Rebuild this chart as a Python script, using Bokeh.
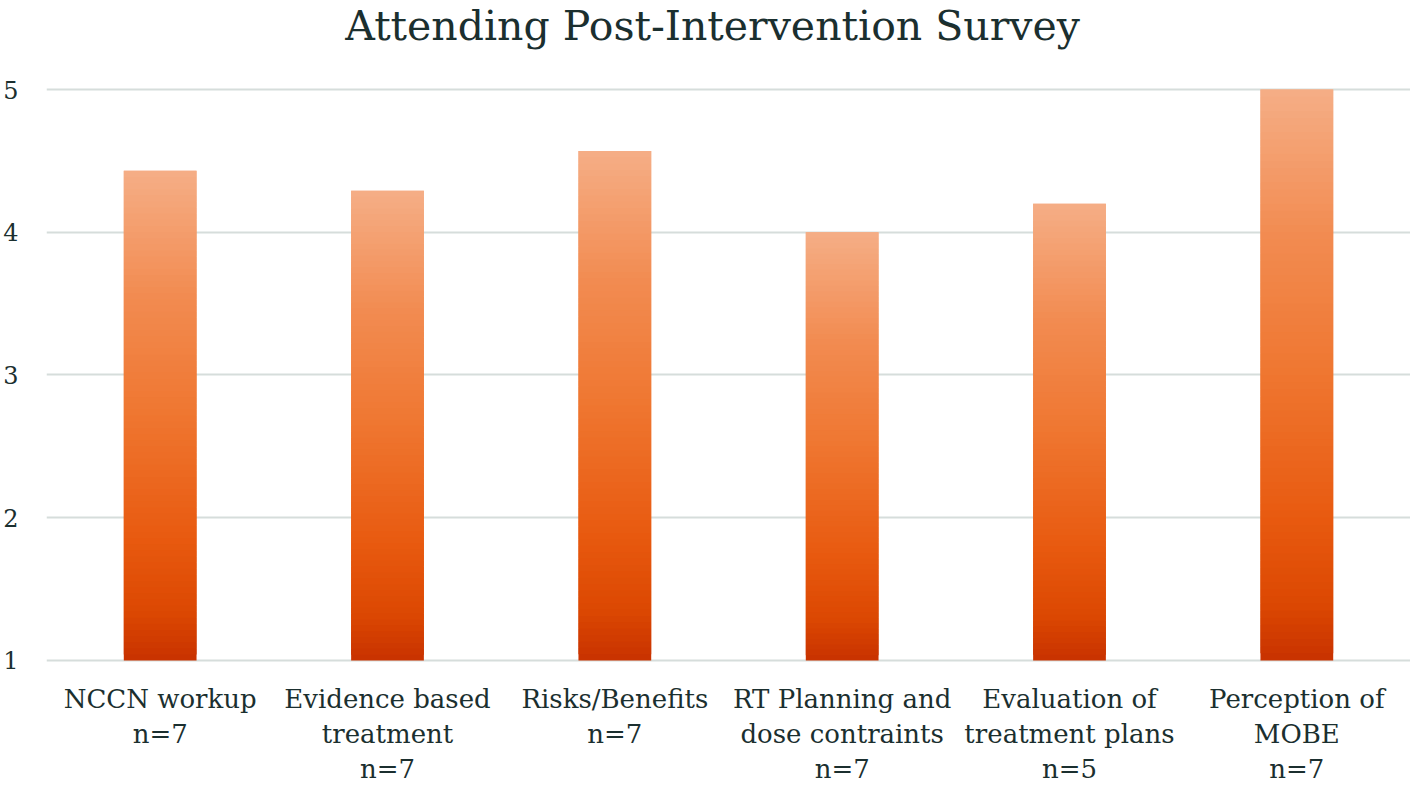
import numpy as np
from bokeh.plotting import figure
from bokeh.models import Range1d, FixedTicker, ColumnDataSource
from bokeh.embed import file_html
from bokeh.resources import INLINE

title = "Attending Post-Intervention Survey"
categories = ["NCCN workup\nn=7", "Evidence based\ntreatment\nn=7", "Risks/Benefits\nn=7",
              "RT Planning and\ndose contraints\nn=7", "Evaluation of\ntreatment plans\nn=5",
              "Perception of\nMOBE\nn=7"]
values = [4.43, 4.29, 4.57, 4.00, 4.20, 5.00]
y_ticks = [1, 2, 3, 4, 5]

FONT = "DejaVu Serif"
TXT = "#1b2f2f"

# numeric positions of the categories on the x scale
xpos = [i + 0.5 for i in range(len(categories))]

p = figure(x_range=Range1d(0, 6), y_range=Range1d(0.1243, 5.6235), width=1410, height=785,
           output_backend="svg", toolbar_location=None, min_border_left=36,
           min_border_right=0, min_border_top=0, min_border_bottom=0)
p.outline_line_color = None
p.xaxis.visible = False

# gradient stops (t=0 bottom, t=1 top)
stops_t = [0.0, 0.1, 0.25, 0.5, 0.75, 1.0]
stops_c = [(200, 50, 0), (220, 72, 2), (232, 90, 16), (239, 118, 48), (242, 140, 82), (245, 174, 134)]

N = 80
xs, bottoms, tops, colors = [], [], [], []
for xp, v in zip(xpos, values):
    edges = np.linspace(1.0, v, N + 1)
    for i in range(N):
        t = (i + 0.5) / N
        rgb = [int(round(np.interp(t, stops_t, [s[k] for s in stops_c]))) for k in range(3)]
        xs.append(xp)
        bottoms.append(edges[i])
        tops.append(edges[min(i + 2, N)])
        colors.append("#%02x%02x%02x" % tuple(rgb))

src = ColumnDataSource(dict(x=xs, bottom=bottoms, top=tops, color=colors))
p.vbar(x="x", bottom="bottom", top="top", width=0.32, fill_color="color", line_color=None, source=src)

# category labels, one line at a time, hung below the baseline value 1
lx, ly, lt, loff = [], [], [], []
for xp, c in zip(xpos, categories):
    for k, line in enumerate(c.split("\n")):
        lx.append(xp)
        ly.append(y_ticks[0])
        lt.append(line)
        loff.append(39 + 35 * k)
lsrc = ColumnDataSource(dict(x=lx, y=ly, text=lt, yoff=loff))
p.text(x="x", y="y", text="text", y_offset="yoff", source=lsrc, text_align="center",
       text_baseline="alphabetic", text_font={"value": FONT}, text_font_size="26px",
       text_color=TXT)

# title
p.text(x=[2.93], y=[y_ticks[-1]], text=[title], y_offset=-64, text_align="center",
       text_baseline="alphabetic", text_font={"value": FONT}, text_font_size="41px",
       text_color=TXT)

p.yaxis.ticker = FixedTicker(ticks=y_ticks)
p.yaxis.axis_line_color = None
p.yaxis.major_tick_line_color = None
p.yaxis.minor_tick_line_color = None
p.yaxis.major_label_text_font = FONT
p.yaxis.major_label_text_font_size = "24px"
p.yaxis.major_label_text_color = TXT
p.yaxis.major_label_standoff = 22

p.xgrid.grid_line_color = None
p.ygrid.grid_line_color = "#d6dddb"
p.ygrid.grid_line_width = 2.2
p.ygrid.level = "underlay"

open("out.html", "w").write(file_html(p, INLINE))
